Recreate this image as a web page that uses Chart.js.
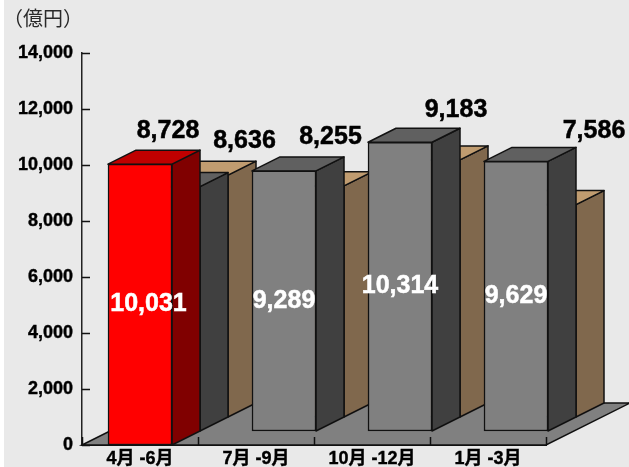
<!DOCTYPE html>
<html lang="ja">
<head>
<meta charset="utf-8">
<style>
html,body{margin:0;padding:0;background:#fff}
canvas{display:block}
</style>
<script src="https://cdn.jsdelivr.net/npm/chart.js@4"></script>
</head>
<body>
<canvas id="c" width="629" height="467"></canvas>
<script>
const categories = ['4月 -6月', '7月 -9月', '10月 -12月', '1月 -3月'];
const highlightValues = [10031, null, null, null];
const middleValues = [8728, 9289, 10314, 9629];
const rearValues = [8636, 8255, 9183, 7586];
const unitLabel = '（億円）';

const yTickStep = 2000;
const yMax = 14000;

const DX = 28, DY = 14;
const BG = '#e9e9e9', LINE = '#111', FLOOR = '#808080';
const FONT = '"Liberation Sans","Noto Sans CJK JP",sans-serif';

// label placement relative to the drawn front face of a bar: [dx, dy]
const highlightNudge = [[8.5, 0]];
const middleNudge = [[0, -56], [0, 0], [0, 0], [0, 0]];
const rearNudge = [[48.5, -34], [18.5, -49], [28, -50], [50, -73]];

class Bar3D extends Chart.BarController {
  draw() {
    const ctx = this.chart.ctx;
    const ds = this.getDataset();
    const row = ds.depthRow;
    this._cachedMeta.data.forEach((el, i) => {
      if (ds.data[i] === null) return;
      const p = el.getProps(['x', 'y', 'base', 'width']);
      const ox = row * DX, oy = -row * DY;
      const l = p.x - p.width / 2 + ox, r = p.x + p.width / 2 + ox;
      const t = p.y + oy, b = p.base + oy;
      ctx.save();
      ctx.lineWidth = 1.5;
      ctx.strokeStyle = LINE;
      ctx.lineJoin = 'round';
      ctx.fillStyle = ds.sideColor;
      ctx.beginPath();
      ctx.moveTo(r, t); ctx.lineTo(r + DX, t - DY); ctx.lineTo(r + DX, b - DY); ctx.lineTo(r, b);
      ctx.closePath(); ctx.fill(); ctx.stroke();
      ctx.fillStyle = ds.topColor;
      ctx.beginPath();
      ctx.moveTo(l, t); ctx.lineTo(l + DX, t - DY); ctx.lineTo(r + DX, t - DY); ctx.lineTo(r, t);
      ctx.closePath(); ctx.fill(); ctx.stroke();
      ctx.translate(ox, oy);
      el.draw(ctx);
      ctx.restore();
    });
  }
}
Bar3D.id = 'bar3d';
Bar3D.defaults = Chart.BarController.defaults;
Bar3D.overrides = Chart.BarController.overrides;
Chart.register(Bar3D);

const scene = {
  id: 'scene',
  beforeDraw(chart) {
    const { ctx, width, height } = chart;
    ctx.save();
    ctx.fillStyle = BG;
    ctx.fillRect(4, 0, width - 4, height);
    ctx.fillStyle = '#2a2a2a';
    ctx.font = '20px "Noto Sans CJK JP",sans-serif';
    ctx.textAlign = 'center';
    ctx.textBaseline = 'middle';
    ctx.fillText(unitLabel, 43, 18);
    ctx.restore();
  },
  beforeDatasetsDraw(chart) {
    const { ctx, scales: { x, y } } = chart;
    const base = y.getPixelForValue(0);
    const rows = 3;
    ctx.save();
    ctx.fillStyle = FLOOR;
    ctx.strokeStyle = LINE;
    ctx.lineWidth = 1.5;
    ctx.beginPath();
    ctx.moveTo(x.left, base);
    ctx.lineTo(x.left + rows * DX, base - rows * DY);
    ctx.lineTo(x.right + rows * DX, base - rows * DY);
    ctx.lineTo(x.right, base);
    ctx.closePath();
    ctx.fill();
    ctx.stroke();
    // inward tick marks
    ctx.beginPath();
    const band = (x.right - x.left) / categories.length;
    for (let i = 0; i <= categories.length; i++) {
      const px = Math.round(x.left + i * band) + 0.5;
      ctx.moveTo(px, base);
      ctx.lineTo(px, base - 8);
    }
    y.ticks.forEach((_, i) => {
      const py = Math.round(y.getPixelForTick(i)) + 0.5;
      ctx.moveTo(y.right, py);
      ctx.lineTo(y.right + 8, py);
    });
    ctx.stroke();
    ctx.restore();
  },
  afterDatasetsDraw(chart) {
    const { ctx } = chart;
    ctx.save();
    ctx.font = 'bold 25px ' + FONT;
    ctx.textAlign = 'center';
    ctx.textBaseline = 'middle';
    ctx.lineWidth = 0.5;
    chart.data.datasets.forEach((ds, di) => {
      const meta = chart.getDatasetMeta(di);
      ds.data.forEach((v, i) => {
        if (v === null) return;
        const el = meta.data[i];
        const p = el.getProps(['x', 'y', 'base']);
        const ox = ds.depthRow * DX, oy = -ds.depthRow * DY;
        const n = ds.labelNudge[i];
        const above = n[1] !== 0;
        const cx = p.x + ox + n[0];
        const cy = above ? p.y + oy + n[1] : (p.y + p.base) / 2 + oy;
        const c = above ? '#000' : '#fff';
        ctx.fillStyle = c;
        ctx.strokeStyle = c;
        const s = v.toLocaleString('en-US');
        ctx.fillText(s, cx, cy);
        ctx.strokeText(s, cx, cy);
      });
    });
    ctx.restore();
  }
};

new Chart(document.getElementById('c'), {
  type: 'bar3d',
  data: {
    labels: categories,
    datasets: [
      { label: 'highlight', data: highlightValues, depthRow: 0, labelNudge: highlightNudge,
        backgroundColor: '#ff0000', sideColor: '#800000', topColor: '#c00000' },
      { label: 'middle', data: middleValues, depthRow: 1, labelNudge: middleNudge,
        backgroundColor: '#808080', sideColor: '#404040', topColor: '#606060' },
      { label: 'rear', data: rearValues, depthRow: 2, labelNudge: rearNudge,
        backgroundColor: '#ffcf96', sideColor: '#80684d', topColor: '#c09c70' }
    ].map(d => Object.assign(d, {
      barThickness: 64, grouped: false, clip: false,
      borderColor: LINE, borderWidth: 1.5, borderSkipped: false
    }))
  },
  options: {
    responsive: false,
    animation: false,
    devicePixelRatio: 1,
    layout: { padding: { top: 53, right: 83, left: 0, bottom: 0 } },
    plugins: { legend: { display: false }, tooltip: { enabled: false }, title: { display: false } },
    scales: {
      x: {
        type: 'category',
        offset: true,
        afterFit(s) { s.height = 22; },
        grid: { display: false, drawTicks: false },
        border: { display: true, color: LINE, width: 2 },
        ticks: { color: '#000', textStrokeColor: '#000', textStrokeWidth: 0.4,
          font: { family: FONT, size: 18, weight: 'bold' }, padding: 3, maxRotation: 0, autoSkip: false }
      },
      y: {
        type: 'linear',
        min: 0,
        max: yMax,
        afterFit(s) { s.width = 82; },
        grid: { display: false, drawTicks: false },
        border: { display: true, color: '#222', width: 1.5 },
        ticks: {
          stepSize: yTickStep,
          color: '#000',
          textStrokeColor: '#000',
          textStrokeWidth: 0.4,
          padding: 9,
          font: { family: FONT, size: 18, weight: 'bold' },
          callback: v => v.toLocaleString('en-US')
        }
      }
    }
  },
  plugins: [scene]
});
</script>
</body>
</html>
